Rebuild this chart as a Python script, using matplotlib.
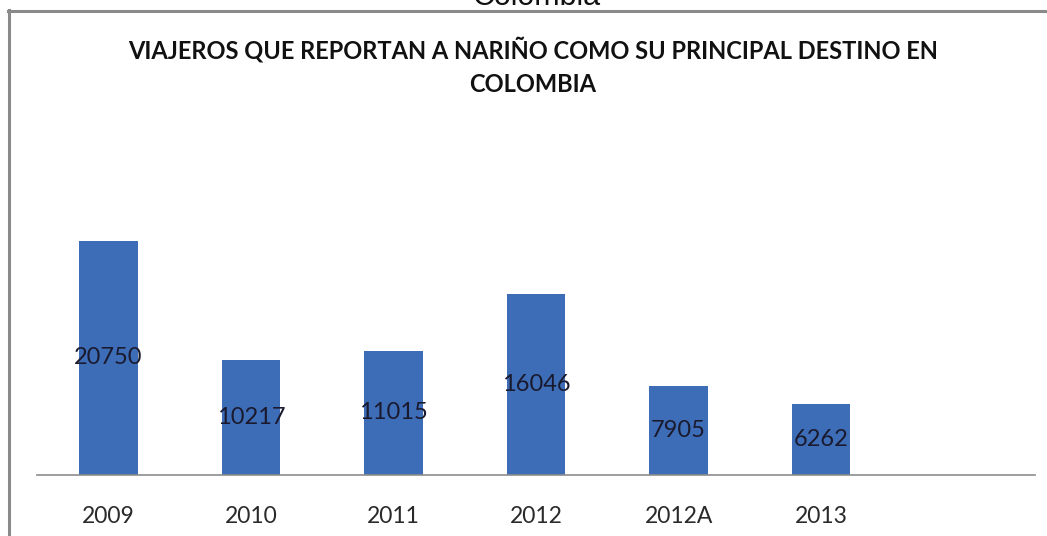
import matplotlib
matplotlib.use("Agg")
import matplotlib.pyplot as plt
from matplotlib.lines import Line2D

# Travellers reporting Nariño as their main destination in Colombia
years = ["2009", "2010", "2011", "2012", "2012A", "2013"]
travellers = [20750, 10217, 11015, 16046, 7905, 6262]

W, H = 1047, 536
fig = plt.figure(figsize=(W / 100, H / 100), dpi=100)
fig.patch.set_facecolor("white")

# Caption above the framed chart (partly cut off at the top edge)
fig.text(537 / W, 1 - 5 / H, "Colombia", ha="center", va="baseline",
         fontsize=22, family="Liberation Sans", color="#111111")

# Grey frame around the chart area
frame_kw = dict(color="#8a8a8a", lw=2.2, transform=fig.transFigure)
fig.add_artist(Line2D([8 / W, 1.0], [1 - 11 / H, 1 - 11 / H], **frame_kw))
fig.add_artist(Line2D([9 / W, 9 / W], [1 - 10 / H, 0.0], **frame_kw))

ax_left, ax_right = 37, 1035
ax_bottom, ax_top = 475, 130
ax = fig.add_axes([ax_left / W, 1 - ax_bottom / H,
                   (ax_right - ax_left) / W, (ax_bottom - ax_top) / H])
ax.set_facecolor("none")

pos = list(range(len(years)))
bars = ax.bar(pos, travellers, width=0.41, color="#3E6DB8", zorder=2)

ax.set_xlim(-0.5, len(years) + 0.5)
px_per_unit = (475 - 241) / travellers[0]
ax.set_ylim(0, (ax_bottom - ax_top) / px_per_unit)

for x, v in zip(pos, travellers):
    ax.text(x, v / 2, str(v), ha="center", va="center", fontsize=17,
            family="Lato", color="#1a1a2e", zorder=3)

ax.set_xticks(pos)
ax.set_xticklabels(years, fontsize=16.5, family="Lato", color="#2a2a2a")
ax.tick_params(axis="x", length=0, pad=22)
ax.set_yticks([])
for side in ("top", "right", "left"):
    ax.spines[side].set_visible(False)
ax.spines["bottom"].set_color("#8c8c8c")
ax.spines["bottom"].set_linewidth(1.2)

fig.text(533 / W, 1 - 50 / H,
         "VIAJEROS QUE REPORTAN A NARIÑO COMO SU PRINCIPAL DESTINO EN",
         ha="center", va="center", fontsize=17, family="Lato",
         fontweight="bold", color="#111111")
fig.text(533 / W, 1 - 84 / H, "COLOMBIA", ha="center", va="center",
         fontsize=17, family="Lato", fontweight="bold", color="#111111")

fig.savefig("out.png", dpi=100)
